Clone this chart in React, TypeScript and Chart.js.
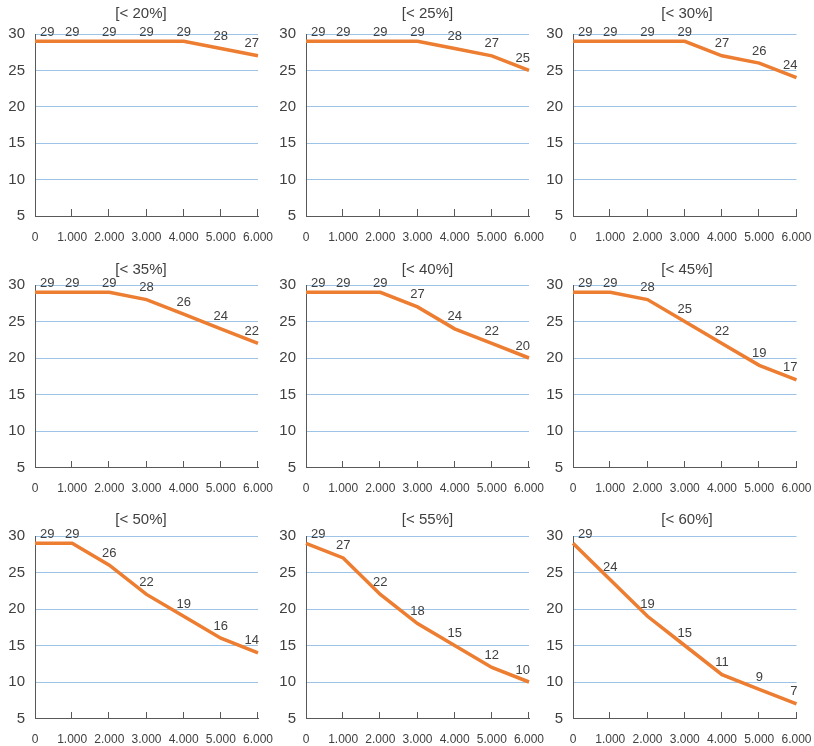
import React, { useEffect, useRef } from "react";
import { Chart, registerables } from "chart.js";

Chart.register(...registerables);

// ---- data ----
const xLabels = ["0", "1.000", "2.000", "3.000", "4.000", "5.000", "6.000"];
const yTicks = [5, 10, 15, 20, 25, 30];
const titles = ["[< 20%]", "[< 25%]", "[< 30%]", "[< 35%]", "[< 40%]", "[< 45%]", "[< 50%]", "[< 55%]", "[< 60%]"];
const s20 = [29, 29, 29, 29, 29, 28, 27];
const s25 = [29, 29, 29, 29, 28, 27, 25];
const s30 = [29, 29, 29, 29, 27, 26, 24];
const s35 = [29, 29, 29, 28, 26, 24, 22];
const s40 = [29, 29, 29, 27, 24, 22, 20];
const s45 = [29, 29, 28, 25, 22, 19, 17];
const s50 = [29, 29, 26, 22, 19, 16, 14];
const s55 = [29, 27, 22, 18, 15, 12, 10];
const s60 = [29, 24, 19, 15, 11, 9, 7];
const seriesList = [s20, s25, s30, s35, s40, s45, s50, s55, s60];

// ---- layout / style ----
const FONT = "'Liberation Sans', Arial, Helvetica, sans-serif";
const TEXT = "#404040";
const AXIS = "#595959";
const GRID = "#9DC3E6";
const LINE = "#ED7D31";

const cols = [
  { left: 0, w: 286, areaLeft: 35, areaRight: 258, titleX: 141 },
  { left: 270, w: 286, areaLeft: 36, areaRight: 259, titleX: 427.5 },
  { left: 538, w: 276, areaLeft: 35, areaRight: 258.5, titleX: 687 },
];
const rows = [
  { top: 0, h: 252, areaTop: 34, areaBottom: 216, titleDy: 20 },
  { top: 252, h: 251, areaTop: 33, areaBottom: 215.5, titleDy: 15 },
  { top: 503, h: 243, areaTop: 33, areaBottom: 215.5, titleDy: 16 },
];

type PanelProps = { idx: number };

function Panel({ idx }: PanelProps) {
  const ref = useRef<HTMLCanvasElement | null>(null);
  const col = cols[idx % 3];
  const row = rows[Math.floor(idx / 3)];

  useEffect(() => {
    const canvas = ref.current;
    if (!canvas) return;
    const data = seriesList[idx];
    const title = titles[idx];

    const titlePlugin = {
      id: "panelTitle",
      afterDraw(chart: any) {
        const ctx = chart.ctx;
        ctx.save();
        ctx.font = `15px ${FONT}`;
        ctx.fillStyle = TEXT;
        ctx.textAlign = "center";
        ctx.textBaseline = "middle";
        ctx.fillText(title, col.titleX - col.left, chart.chartArea.top - row.titleDy);
        ctx.restore();
      },
    };

    const innerTicks = {
      id: "innerTicks",
      afterDraw(chart: any) {
        const ctx = chart.ctx;
        const xs = chart.scales.x;
        const bottom = Math.round(chart.chartArea.bottom);
        ctx.save();
        ctx.strokeStyle = AXIS;
        ctx.lineWidth = 1;
        ctx.beginPath();
        for (let i = 1; i < xs.ticks.length; i++) {
          const x = Math.round(xs.getPixelForTick(i)) - 0.5;
          ctx.moveTo(x, bottom);
          ctx.lineTo(x, bottom - 7);
        }
        ctx.stroke();
        ctx.restore();
      },
    };

    const dataLabels = {
      id: "dataLabels",
      afterDatasetsDraw(chart: any) {
        const ctx = chart.ctx;
        const area = chart.chartArea;
        const meta = chart.getDatasetMeta(0);
        const vals = chart.data.datasets[0].data as number[];
        ctx.save();
        ctx.font = `13px ${FONT}`;
        ctx.fillStyle = TEXT;
        ctx.textAlign = "center";
        ctx.textBaseline = "middle";
        meta.data.forEach((el: any, i: number) => {
          const txt = String(vals[i]);
          const w = ctx.measureText(txt).width;
          let cx = el.x;
          cx = Math.max(cx, area.left + 5 + w / 2);
          cx = Math.min(cx, area.right + 1 - w / 2);
          const cy = Math.max(el.y - 12, area.top - 1.5);
          ctx.fillText(txt, cx, cy);
        });
        ctx.restore();
      },
    };

    const chart = new Chart(canvas, {
      type: "line",
      data: {
        labels: xLabels,
        datasets: [
          {
            data,
            borderColor: LINE,
            backgroundColor: LINE,
            borderWidth: 3.5,
            pointRadius: 0,
            pointHoverRadius: 0,
            tension: 0,
            fill: false,
          },
        ],
      },
      options: {
        responsive: false,
        animation: false,
        events: [],
        layout: {
          padding: { left: 0, top: row.areaTop, right: col.w - col.areaRight, bottom: 0 },
        },
        plugins: {
          legend: { display: false },
          tooltip: { enabled: false },
          title: { display: false },
        },
        scales: {
          x: {
            type: "category",
            offset: false,
            grid: { display: false, drawTicks: false },
            border: { display: true, color: AXIS, width: 1 },
            ticks: {
              color: TEXT,
              font: { family: FONT, size: 12 },
              padding: 14,
              maxRotation: 0,
              minRotation: 0,
              autoSkip: false,
            },
            afterFit: (s: any) => {
              s.height = row.h - row.areaBottom;
              s.paddingLeft = 0;
              s.paddingRight = 0;
            },
          },
          y: {
            type: "linear",
            min: yTicks[0],
            max: yTicks[yTicks.length - 1],
            afterBuildTicks: (s: any) => {
              s.ticks = yTicks.map((v) => ({ value: v }));
            },
            ticks: {
              color: TEXT,
              font: { family: FONT, size: 15 },
              padding: 10,
            },
            grid: {
              drawTicks: false,
              lineWidth: 1,
              color: (ctx: any) => (ctx.tick && ctx.tick.value === yTicks[0] ? "rgba(0,0,0,0)" : GRID),
            },
            border: { display: true, color: AXIS, width: 1 },
            afterFit: (s: any) => {
              s.width = col.areaLeft;
              s.paddingTop = 0;
              s.paddingBottom = 0;
            },
          },
        },
      },
      plugins: [dataLabels, innerTicks, titlePlugin],
    });
    return () => chart.destroy();
  }, [idx]);

  return (
    <canvas
      ref={ref}
      width={col.w}
      height={row.h}
      style={{
        position: "absolute",
        left: col.left,
        top: row.top,
        width: col.w,
        height: row.h,
      }}
    />
  );
}

export default function App() {
  return (
    <div
      style={{
        position: "absolute",
        left: 0,
        top: 0,
        width: 814,
        height: 746,
        background: "#ffffff",
        overflow: "hidden",
      }}
    >
      {seriesList.map((_, i) => (
        <Panel key={i} idx={i} />
      ))}
    </div>
  );
}
